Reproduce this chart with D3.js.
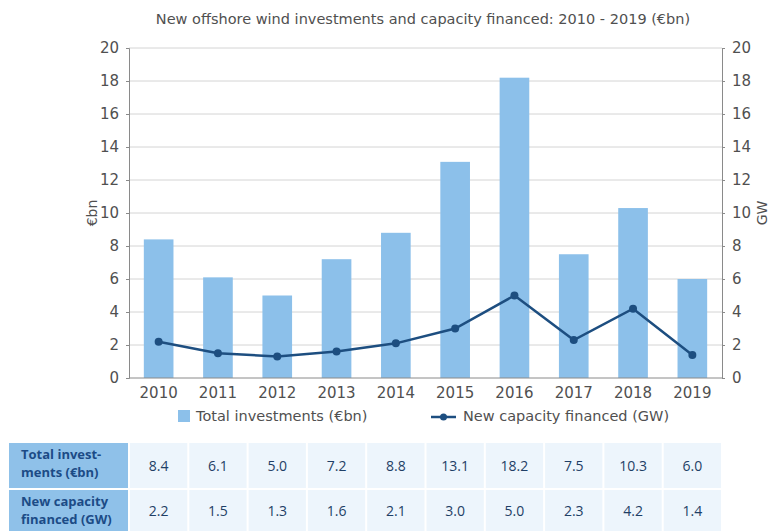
<!DOCTYPE html>
<html>
<head>
<meta charset="utf-8">
<script src="https://cdn.jsdelivr.net/npm/d3@7"></script>
<style>
  body { margin: 0; background: #fff; }
  svg { display: block; }
</style>
</head>
<body>
<div id="chart"></div>
<script>
// Chart data
const years = ['2010', '2011', '2012', '2013', '2014', '2015', '2016', '2017', '2018', '2019'];
const investments = [8.4, 6.1, 5.0, 7.2, 8.8, 13.1, 18.2, 7.5, 10.3, 6.0];
const capacity = [2.2, 1.5, 1.3, 1.6, 2.1, 3.0, 5.0, 2.3, 4.2, 1.4];
const yTicks = [0, 2, 4, 6, 8, 10, 12, 14, 16, 18, 20];
const rowLabels = [['Total invest-', 'ments (€bn)'], ['New capacity', 'financed (GW)']];

const width = 769, height = 531;
const margin = { top: 48, right: 47, bottom: 153, left: 129 };
const plotW = width - margin.left - margin.right;
const plotH = height - margin.top - margin.bottom;

const barColour = '#8cc0ea';
const lineColour = '#1d4e80';
const axisColour = '#8a8a8a';
const textColour = '#505050';
const font = 'DejaVu Sans, sans-serif';

const svg = d3.select('#chart')
    .append('svg')
    .attr('width', width)
    .attr('height', height);

const x = d3.scaleBand()
    .domain(years)
    .range([margin.left, margin.left + plotW])
    .paddingInner(0.5)
    .paddingOuter(0.25);

const yLeft = d3.scaleLinear().domain([0, 20]).range([margin.top + plotH, margin.top]);
const yRight = d3.scaleLinear().domain([0, 20]).range([margin.top + plotH, margin.top]);

// Title
svg.append('text')
    .attr('x', 423)
    .attr('y', 24)
    .attr('text-anchor', 'middle')
    .attr('fill', textColour)
    .style('font', `14.5px ${font}`)
    .text('New offshore wind investments and capacity financed: 2010 - 2019 (€bn)');

// Gridlines
svg.append('g')
    .selectAll('line')
    .data(yTicks.filter(d => d > 0))
    .join('line')
    .attr('x1', margin.left)
    .attr('x2', margin.left + plotW)
    .attr('y1', d => yLeft(d))
    .attr('y2', d => yLeft(d))
    .attr('stroke', '#d4d4d4')
    .attr('stroke-width', 1);

// Bars
svg.append('g')
    .selectAll('rect')
    .data(investments)
    .join('rect')
    .attr('x', (d, i) => x(years[i]))
    .attr('y', d => yLeft(d))
    .attr('width', x.bandwidth())
    .attr('height', d => yLeft(0) - yLeft(d))
    .attr('fill', barColour);

// Axes
const leftAxis = svg.append('g')
    .attr('transform', `translate(${margin.left},0)`)
    .call(d3.axisLeft(yLeft).tickValues(yTicks).tickSize(3).tickPadding(7));

const rightAxis = svg.append('g')
    .attr('transform', `translate(${margin.left + plotW},0)`)
    .call(d3.axisRight(yRight).tickValues(yTicks).tickSize(3).tickPadding(7));

const bottomAxis = svg.append('g')
    .attr('transform', `translate(0,${margin.top + plotH})`)
    .call(d3.axisBottom(x).tickSize(0).tickPadding(9));

[leftAxis, rightAxis, bottomAxis].forEach(a => {
    a.select('.domain').attr('stroke', axisColour);
    a.selectAll('.tick line').attr('stroke', axisColour);
    a.selectAll('text')
        .attr('fill', textColour)
        .style('font', `15px ${font}`);
});
bottomAxis.select('.domain').attr('d', `M${margin.left},0H${margin.left + plotW}`);

// Axis titles
svg.append('text')
    .attr('transform', `translate(97,${margin.top + plotH / 2}) rotate(-90)`)
    .attr('text-anchor', 'middle')
    .attr('fill', textColour)
    .style('font', `14px ${font}`)
    .text('€bn');

svg.append('text')
    .attr('transform', `translate(767,${margin.top + plotH / 2}) rotate(-90)`)
    .attr('text-anchor', 'middle')
    .attr('fill', textColour)
    .style('font', `14px ${font}`)
    .text('GW');

// Capacity line
const cx = (d, i) => x(years[i]) + x.bandwidth() / 2;
const line = d3.line()
    .x(cx)
    .y(d => yRight(d));

svg.append('path')
    .datum(capacity)
    .attr('fill', 'none')
    .attr('stroke', lineColour)
    .attr('stroke-width', 2.5)
    .attr('d', line);

svg.append('g')
    .selectAll('circle')
    .data(capacity)
    .join('circle')
    .attr('cx', cx)
    .attr('cy', d => yRight(d))
    .attr('r', 4)
    .attr('fill', lineColour);

// Legend
const legend = svg.append('g').style('font', `14.5px ${font}`).attr('fill', textColour);
legend.append('rect')
    .attr('x', 178).attr('y', 410).attr('width', 12).attr('height', 12)
    .attr('fill', barColour);
legend.append('text')
    .attr('x', 196).attr('y', 421)
    .text('Total investments (€bn)');
legend.append('line')
    .attr('x1', 431).attr('x2', 456).attr('y1', 417).attr('y2', 417)
    .attr('stroke', lineColour).attr('stroke-width', 2.5);
legend.append('circle')
    .attr('cx', 443.5).attr('cy', 417).attr('r', 3.5)
    .attr('fill', lineColour);
legend.append('text')
    .attr('x', 463).attr('y', 421)
    .text('New capacity financed (GW)');

// Data table
const tableRows = [investments, capacity];
const rowTop = [443, 490];
const rowH = [45, 41];
const tableFont = 'Open Sans, Liberation Sans, sans-serif';

tableRows.forEach((row, r) => {
    const g = svg.append('g');
    g.append('rect')
        .attr('x', 9).attr('y', rowTop[r])
        .attr('width', 119).attr('height', rowH[r])
        .attr('fill', '#8fc1e9');
    rowLabels[r].forEach((t, k) => {
        g.append('text')
            .attr('x', 21)
            .attr('y', rowTop[r] + 16 + k * 18)
            .attr('fill', '#1c4b86')
            .style('font', `bold 13px ${tableFont}`)
            .text(t);
    });
    g.selectAll('rect.cell')
        .data(row)
        .join('rect')
        .attr('class', 'cell')
        .attr('x', (d, i) => x(years[i]) - x.step() * 0.25 + 1)
        .attr('y', rowTop[r])
        .attr('width', x.step() - 2)
        .attr('height', rowH[r])
        .attr('fill', '#edf5fc');
    g.selectAll('text.val')
        .data(row)
        .join('text')
        .attr('class', 'val')
        .attr('x', (d, i) => x(years[i]) + x.bandwidth() / 2)
        .attr('y', rowTop[r] + rowH[r] / 2 + 5)
        .attr('text-anchor', 'middle')
        .attr('fill', '#1f3f66')
        .style('font', `14px ${tableFont}`)
        .text(d => d.toFixed(1));
});
</script>
</body>
</html>
